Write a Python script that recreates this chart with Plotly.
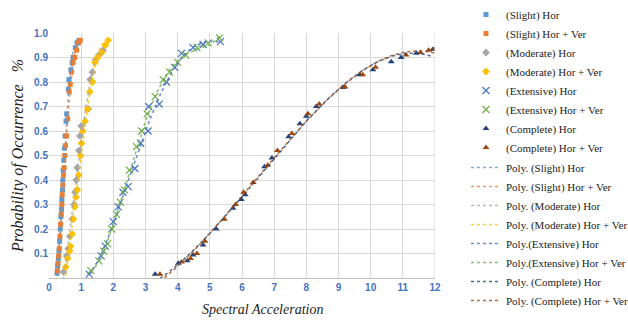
import numpy as np
import plotly.graph_objects as go

# ---- data ----
slight_h_x = [0.25, 0.27, 0.29, 0.31, 0.33, 0.35, 0.37, 0.39, 0.40, 0.42, 0.43, 0.44, 0.46, 0.48, 0.50, 0.53, 0.55, 0.60, 0.62, 0.68, 0.72, 0.75, 0.82, 0.88, 0.93]
slight_h_y = [0.02, 0.05, 0.08, 0.11, 0.15, 0.20, 0.25, 0.28, 0.32, 0.36, 0.40, 0.44, 0.48, 0.53, 0.58, 0.64, 0.67, 0.77, 0.81, 0.85, 0.88, 0.90, 0.94, 0.96, 0.97]
slight_hv_x = [0.26, 0.28, 0.30, 0.32, 0.34, 0.36, 0.38, 0.40, 0.41, 0.43, 0.45, 0.47, 0.49, 0.51, 0.55, 0.58, 0.63, 0.66, 0.70, 0.75, 0.80, 0.86, 0.92, 0.97]
slight_hv_y = [0.03, 0.06, 0.09, 0.12, 0.17, 0.22, 0.26, 0.30, 0.34, 0.38, 0.42, 0.45, 0.50, 0.54, 0.58, 0.65, 0.76, 0.79, 0.84, 0.88, 0.90, 0.93, 0.96, 0.97]
mod_h_x = [0.45, 0.55, 0.60, 0.65, 0.72, 0.78, 0.81, 0.85, 0.88, 0.93, 0.96, 1.0, 1.22, 1.28, 1.35, 1.45, 1.55, 1.68]
mod_h_y = [0.025, 0.09, 0.12, 0.17, 0.24, 0.30, 0.35, 0.40, 0.45, 0.52, 0.58, 0.62, 0.69, 0.81, 0.84, 0.89, 0.91, 0.93]
mod_hv_x = [0.52, 0.58, 0.64, 0.67, 0.72, 0.76, 0.80, 0.84, 0.88, 0.92, 0.98, 1.01, 1.05, 1.12, 1.20, 1.27, 1.35, 1.43, 1.51, 1.64, 1.75, 1.84]
mod_hv_y = [0.045, 0.08, 0.11, 0.13, 0.18, 0.24, 0.29, 0.33, 0.36, 0.42, 0.50, 0.55, 0.60, 0.64, 0.69, 0.76, 0.80, 0.88, 0.90, 0.92, 0.95, 0.97]
ext_h_x = [1.25, 1.62, 1.75, 2.00, 2.15, 2.30, 2.46, 2.67, 2.85, 3.08, 3.10, 3.43, 3.65, 3.91, 4.12, 4.48, 4.79, 5.33]
ext_h_y = [0.016, 0.09, 0.13, 0.23, 0.29, 0.35, 0.373, 0.447, 0.55, 0.60, 0.70, 0.71, 0.80, 0.86, 0.917, 0.94, 0.953, 0.965]
ext_hv_x = [1.30, 1.55, 1.70, 1.82, 1.95, 2.10, 2.22, 2.35, 2.50, 2.72, 2.88, 3.05, 3.30, 3.55, 3.75, 4.00, 4.25, 4.60, 4.95, 5.30]
ext_hv_y = [0.03, 0.07, 0.11, 0.14, 0.20, 0.26, 0.31, 0.36, 0.44, 0.536, 0.60, 0.67, 0.74, 0.81, 0.84, 0.88, 0.91, 0.94, 0.96, 0.98]
comp_h_x = [3.30, 4.02, 4.30, 4.48, 4.79, 5.20, 5.72, 5.98, 6.10, 6.70, 6.93, 7.45, 7.80, 8.00, 8.31, 9.14, 9.66, 10.07, 10.64, 10.95, 11.42, 11.93]
comp_h_y = [0.015, 0.06, 0.07, 0.094, 0.135, 0.20, 0.285, 0.32, 0.34, 0.454, 0.49, 0.577, 0.63, 0.66, 0.70, 0.778, 0.83, 0.85, 0.883, 0.90, 0.917, 0.933]
comp_hv_x = [3.45, 4.12, 4.40, 4.60, 4.85, 5.45, 5.80, 6.05, 6.35, 6.80, 7.10, 7.55, 8.05, 8.40, 9.20, 9.75, 10.15, 11.10, 11.55, 11.80, 12.00]
comp_hv_y = [0.015, 0.065, 0.08, 0.10, 0.15, 0.24, 0.30, 0.35, 0.39, 0.46, 0.52, 0.59, 0.67, 0.71, 0.78, 0.83, 0.86, 0.91, 0.92, 0.93, 0.935]

y_ticks = [0.1, 0.2, 0.3, 0.4, 0.5, 0.6, 0.7, 0.8, 0.9, 1.0]
x_ticks = list(range(0, 13))

series = [
    ("(Slight) Hor", slight_h_x, slight_h_y, "#5B9BD5", "square", 5, "Poly. (Slight) Hor", 3),
    ("(Slight) Hor + Ver", slight_hv_x, slight_hv_y, "#ED7D31", "square", 5, "Poly. (Slight) Hor + Ver", 3),
    ("(Moderate) Hor", mod_h_x, mod_h_y, "#A5A5A5", "diamond", 6, "Poly. (Moderate) Hor", 3),
    ("(Moderate) Hor + Ver", mod_hv_x, mod_hv_y, "#FFC000", "diamond", 6, "Poly. (Moderate) Hor + Ver", 3),
    ("(Extensive) Hor", ext_h_x, ext_h_y, "#4472C4", "x-thin-open", 7, "Poly.(Extensive) Hor", 4),
    ("(Extensive) Hor + Ver", ext_hv_x, ext_hv_y, "#70AD47", "x-thin-open", 7, "Poly.(Extensive) Hor + Ver", 4),
    ("(Complete) Hor", comp_h_x, comp_h_y, "#264478", "triangle-up", 6, "Poly. (Complete) Hor", 3),
    ("(Complete) Hor + Ver", comp_hv_x, comp_hv_y, "#9E480E", "triangle-up", 6, "Poly. (Complete) Hor + Ver", 3),
]

SERIF = '"Liberation Serif", "Times New Roman", "DejaVu Serif", serif'

fig = go.Figure()
for name, xs, ys, col, sym, sz, _, deg in series:
    fig.add_trace(go.Scatter(
        x=xs, y=ys, mode="markers", name=name, legend="legend",
        marker=dict(symbol=sym, size=sz, color=col,
                    line=dict(width=1.2 if "x" in sym else 0, color=col)),
    ))
for name, xs, ys, col, sym, sz, pname, deg in series:
    c = np.polyfit(xs, ys, deg)
    xx = np.linspace(min(xs), max(xs), 120)
    fig.add_trace(go.Scatter(
        x=xx, y=np.polyval(c, xx), mode="lines", name=pname, legend="legend2",
        line=dict(color=col, width=1.5, dash="dot"), opacity=0.8,
    ))

leg_common = dict(xref="container", yref="container", x=0.742,
                  xanchor="left", yanchor="top", maxheight=400,
                  font=dict(family=SERIF, size=11, color="#222"),
                  itemwidth=30, tracegroupgap=0, bgcolor="rgba(0,0,0,0)",
                  borderwidth=0)

fig.update_layout(
    width=628, height=323,
    margin=dict(l=49, r=193, t=33, b=45, autoexpand=False),
    paper_bgcolor="white", plot_bgcolor="white",
    showlegend=True,
    legend=dict(y=1.0, **leg_common),
    legend2=dict(y=0.526, **leg_common),
    xaxis=dict(range=[0, 12], tickvals=x_ticks, showgrid=True, gridcolor="#D9D9D9",
               gridwidth=1, zeroline=False, showline=True, linecolor="#BFBFBF",
               ticks="", tickfont=dict(family="Liberation Sans", size=10, color="#4472C4", weight="bold")),
    yaxis=dict(range=[0, 1.0], tickvals=y_ticks, tickformat=".1f", showgrid=True,
               gridcolor="#D9D9D9", gridwidth=1, zeroline=False, showline=False,
               ticks="", tickfont=dict(family="Liberation Sans", size=10, color="#4472C4", weight="bold"),
               title=dict(text="<i>Probability of Occurrence&nbsp;&nbsp;&nbsp;%</i>", standoff=6,
                          font=dict(family=SERIF, size=16, color="#222"))),
    annotations=[dict(text="<i>Spectral Acceleration</i>", xref="paper", yref="paper",
                      x=0.554, y=-0.13, xanchor="center", yanchor="middle", showarrow=False,
                      font=dict(family=SERIF, size=14, color="#222"))],
)
fig.add_shape(type="line", xref="x", yref="paper", x0=12, x1=12, y0=0, y1=1,
              line=dict(color="#D9D9D9", width=1))

fig.write_html("out.html")
